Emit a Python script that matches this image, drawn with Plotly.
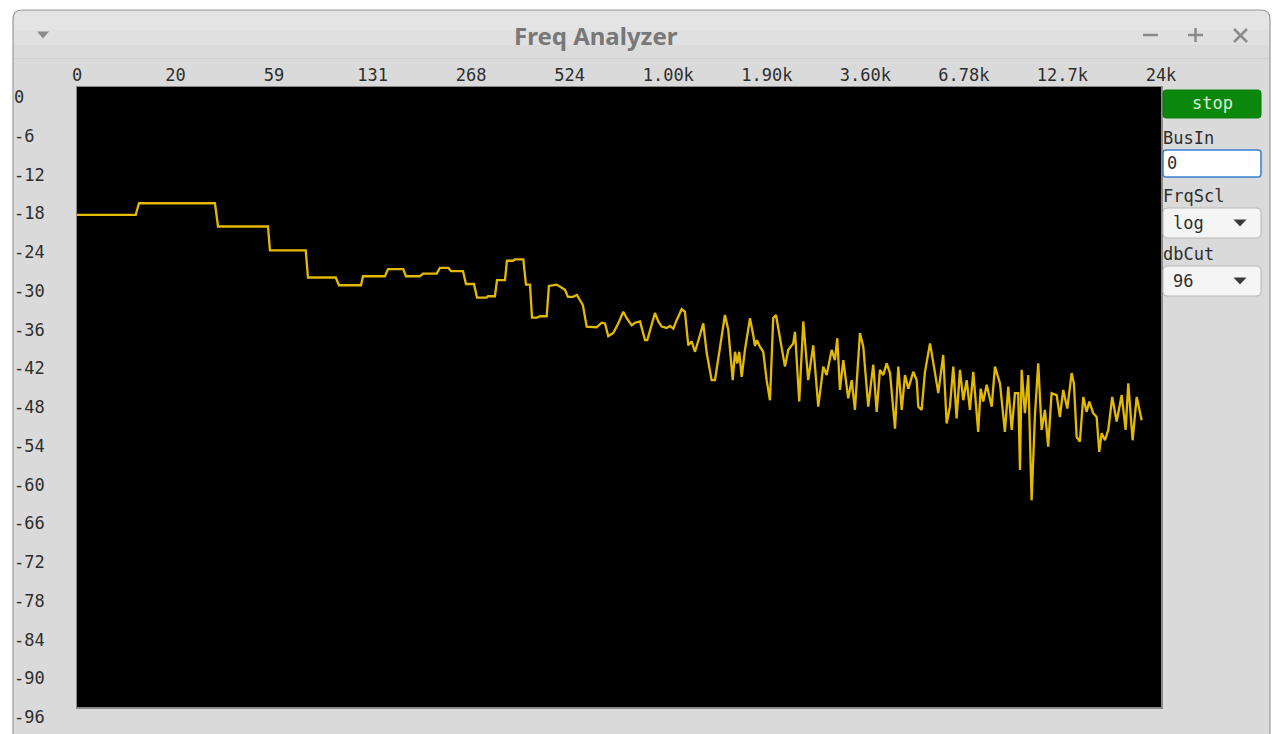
import plotly.graph_objects as go

# Spectrum trace: position along the log-frequency axis (100 units per labelled step) and level in dB
pos = [
    0.0, 59.6, 62.9, 140.0, 143.1, 193.8, 195.8, 232.1, 234.4, 262.5,
    265.9, 288.2, 290.2, 312.5, 315.6, 331.1, 333.8, 348.0, 351.1, 365.0,
    368.3, 376.8, 379.5, 391.7, 394.7, 402.8, 405.9, 415.7, 417.0, 424.1,
    426.2, 434.3, 436.3, 442.4, 444.4, 452.9, 455.6, 459.7, 461.7, 466.8,
    469.8, 476.6, 478.9, 486.8, 491.1, 495.2, 498.2, 503.3, 507.3, 510.4,
    513.4, 517.2, 527.3, 532.4, 535.8, 539.1, 544.2, 549.3, 554.3, 557.8,
    562.9, 566.2, 571.3, 576.4, 578.7, 586.5, 589.9, 593.3, 598.4, 601.7,
    605.1, 608.5, 613.6, 616.9, 620.3, 623.7, 627.1, 632.2, 635.5, 639.0,
    644.0, 647.4, 652.5, 657.5, 660.9, 665.4, 667.7, 670.0, 672.0, 674.5,
    677.8, 682.9, 686.2, 688.0, 690.0, 693.0, 696.4, 699.8, 703.2, 706.5,
    709.3, 713.3, 718.4, 721.8, 726.8, 728.6, 732.9, 737.0, 742.0, 747.1,
    752.2, 757.3, 760.7, 765.8, 769.1, 771.5, 774.2, 777.6, 782.6, 786.1,
    789.4, 794.5, 797.9, 802.9, 808.0, 811.5, 814.8, 818.2, 821.6, 825.0,
    830.1, 833.4, 836.9, 840.2, 843.6, 848.6, 852.1, 853.7, 857.1, 860.5,
    865.6, 869.6, 874.0, 879.0, 882.5, 885.8, 889.2, 892.6, 896.0, 899.3,
    902.8, 906.1, 909.5, 914.5, 917.0, 919.6, 923.1, 928.2, 931.5, 936.6,
    941.6, 945.0, 948.5, 951.8, 955.1, 956.9, 958.6, 961.9, 965.3, 968.7,
    972.1, 975.4, 978.9, 982.2, 985.5, 989.0, 994.1, 997.4, 1000.8, 1004.9,
    1009.3, 1011.6, 1014.4, 1017.7, 1021.1, 1024.5, 1027.2, 1031.2, 1034.7, 1037.3,
    1039.8, 1043.1, 1046.5, 1050.5, 1055.0, 1060.1, 1064.1, 1066.8, 1071.2, 1075.3,
    1080.4,
]
level_db = [
    -19.8, -19.8, -18.0, -18.0, -21.6, -21.6, -25.3, -25.3, -29.5, -29.5,
    -30.7, -30.7, -29.3, -29.3, -28.2, -28.2, -29.3, -29.3, -28.9, -28.9,
    -28.0, -28.0, -28.5, -28.5, -30.5, -30.5, -32.6, -32.6, -32.4, -32.4,
    -29.9, -29.9, -26.9, -26.9, -26.7, -26.7, -30.6, -30.6, -35.7, -35.7,
    -35.5, -35.5, -30.8, -30.6, -31.0, -31.4, -32.5, -32.5, -32.2, -33.0,
    -33.8, -37.1, -37.2, -36.5, -36.6, -38.6, -38.1, -36.6, -34.8, -35.8,
    -36.9, -36.5, -36.3, -39.2, -39.2, -35.0, -36.3, -37.1, -37.3, -37.0,
    -37.4, -36.1, -34.4, -34.8, -40.0, -39.4, -41.0, -38.4, -36.6, -41.2,
    -45.4, -45.4, -40.2, -35.3, -37.6, -45.4, -41.0, -42.8, -41.0, -44.9,
    -40.7, -35.8, -38.4, -40.1, -39.2, -40.2, -41.0, -45.4, -48.5, -35.8,
    -35.3, -38.7, -43.3, -40.7, -39.7, -37.9, -48.7, -36.3, -45.4, -40.0,
    -49.5, -43.3, -44.6, -40.7, -42.3, -38.9, -46.9, -42.3, -48.2, -45.4,
    -50.0, -38.1, -40.2, -49.5, -43.0, -50.3, -43.8, -44.6, -42.8, -44.3,
    -52.9, -43.3, -50.0, -44.6, -46.7, -44.1, -45.4, -49.5, -50.0, -44.1,
    -39.7, -43.3, -47.4, -41.5, -52.1, -49.5, -43.3, -51.3, -43.8, -48.5,
    -45.4, -50.0, -44.1, -53.4, -46.7, -48.7, -46.1, -49.5, -43.3, -45.9,
    -53.4, -46.4, -53.1, -47.4, -47.4, -59.3, -43.8, -50.5, -44.6, -64.0,
    -50.8, -42.8, -53.1, -50.0, -55.7, -47.4, -47.7, -51.1, -46.9, -49.8,
    -44.3, -45.9, -54.2, -54.9, -48.0, -50.3, -48.7, -50.5, -51.1, -56.5,
    -53.6, -54.7, -53.1, -48.0, -51.8, -47.7, -53.1, -45.9, -54.7, -48.0,
    -51.6,
]
assert len(pos) == len(level_db)

# Axis labelling
freq_tick_pos = [0, 100, 200, 300, 400, 500, 600, 700, 800, 900, 1000, 1100]
freq_tick_text = ["0", "20", "59", "131", "268", "524", "1.00k", "1.90k",
                  "3.60k", "6.78k", "12.7k", "24k"]
db_ticks = [0, -6, -12, -18, -24, -30, -36, -42, -48, -54, -60, -66, -72,
            -78, -84, -90, -96]

# Page geometry (pixels) of the plotting area
W, H = 1276, 734
PL, PT, PR, PB = 77, 87, 1161, 707


def fx(x):
    return (x - PL) / (PR - PL)


def fy(y):
    return (PB - y) / (PB - PT)


def rect(x0, y0, x1, y1, fill, line=None, lw=1, layer="below"):
    return dict(type="rect", xref="paper", yref="paper",
                x0=fx(x0), x1=fx(x1), y0=fy(y1), y1=fy(y0),
                fillcolor=fill, line=dict(color=line or fill, width=lw if line else 0),
                layer=layer)


def rounded(x0, y0, x1, y1, r, fill, line, lw=1, layer="below"):
    p = (f"M {fx(x0)},{fy(y1)} L {fx(x0)},{fy(y0 + r)} "
         f"Q {fx(x0)},{fy(y0)} {fx(x0 + r)},{fy(y0)} "
         f"L {fx(x1 - r)},{fy(y0)} Q {fx(x1)},{fy(y0)} {fx(x1)},{fy(y0 + r)} "
         f"L {fx(x1)},{fy(y1)} Z")
    return dict(type="path", xref="paper", yref="paper", path=p,
                fillcolor=fill, line=dict(color=line, width=lw), layer=layer)


def box(x0, y0, x1, y1, r, fill, line, lw=1, layer="above"):
    p = (f"M {fx(x0 + r)},{fy(y0)} L {fx(x1 - r)},{fy(y0)} "
         f"Q {fx(x1)},{fy(y0)} {fx(x1)},{fy(y0 + r)} "
         f"L {fx(x1)},{fy(y1 - r)} Q {fx(x1)},{fy(y1)} {fx(x1 - r)},{fy(y1)} "
         f"L {fx(x0 + r)},{fy(y1)} Q {fx(x0)},{fy(y1)} {fx(x0)},{fy(y1 - r)} "
         f"L {fx(x0)},{fy(y0 + r)} Q {fx(x0)},{fy(y0)} {fx(x0 + r)},{fy(y0)} Z")
    return dict(type="path", xref="paper", yref="paper", path=p,
                fillcolor=fill, line=dict(color=line, width=lw), layer=layer)


def seg(x0, y0, x1, y1, color, width):
    return dict(type="line", xref="paper", yref="paper",
                x0=fx(x0), y0=fy(y0), x1=fx(x1), y1=fy(y1),
                line=dict(color=color, width=width), layer="above")


def tri(cx, cy, w, h, color):
    p = (f"M {fx(cx - w / 2)},{fy(cy - h / 2)} L {fx(cx + w / 2)},{fy(cy - h / 2)} "
         f"L {fx(cx)},{fy(cy + h / 2)} Z")
    return dict(type="path", xref="paper", yref="paper", path=p,
                fillcolor=color, line=dict(color=color, width=0), layer="above")


MONO = "DejaVu Sans Mono"
TXT = "#2e2e2e"

shapes = [
    # window body and title bar
    rounded(13, 10, 1270, 760, 9, "#dadada", "#9c9c9c", 1.2),
    rounded(14, 11, 1269, 58, 8, "#e4e4e4", "#e4e4e4", 0),
    rect(14, 30, 1269, 45, "#e0e0e0"),
    rect(14, 45, 1269, 58, "#dbdbdb"),
    rect(14, 58, 1269, 59, "#d0d0d0"),
    # plotting surface
    rect(PL - 1, PT - 1, PR + 2, PB + 2, "#8a8a8a"),
    rect(PL, PT, PR, PB, "#000000"),
    # title bar controls
    tri(43, 35, 12, 7, "#8a8a8a"),
    seg(1143, 35, 1158, 35, "#8a8a8a", 2.5),
    seg(1188, 35, 1203, 35, "#8a8a8a", 2.5),
    seg(1195.5, 28, 1195.5, 42, "#8a8a8a", 2.5),
    seg(1234, 29, 1247, 42, "#8a8a8a", 2.5),
    seg(1234, 42, 1247, 29, "#8a8a8a", 2.5),
    # side panel widgets
    box(1163, 90, 1261, 118, 3, "#0b870b", "#0a7a0a"),
    box(1163, 150, 1261, 177, 3, "#ffffff", "#3c7fd0", 1.5),
    box(1163, 208, 1261, 238, 4, "#f5f5f5", "#b8b8b8"),
    tri(1240, 223, 13, 7, "#3a3a3a"),
    box(1163, 266, 1261, 296, 4, "#f5f5f5", "#b8b8b8"),
    tri(1240, 281, 13, 7, "#3a3a3a"),
]

annotations = [
    dict(text="<b>Freq Analyzer</b>", x=fx(596), y=fy(36), xref="paper", yref="paper",
         showarrow=False, xanchor="center", yanchor="middle",
         font=dict(family="Noto Sans", size=24, color="#787878")),
    dict(text="stop", x=fx(1212), y=fy(103), xref="paper", yref="paper",
         showarrow=False, xanchor="center", yanchor="middle",
         font=dict(family=MONO, size=17, color="#d8f0d8")),
    dict(text="BusIn", x=fx(1161), y=fy(138), xref="paper", yref="paper",
         showarrow=False, xanchor="left", yanchor="middle",
         font=dict(family=MONO, size=17, color=TXT)),
    dict(text="0", x=fx(1165), y=fy(163), xref="paper", yref="paper",
         showarrow=False, xanchor="left", yanchor="middle",
         font=dict(family=MONO, size=17, color=TXT)),
    dict(text="FrqScl", x=fx(1161), y=fy(196), xref="paper", yref="paper",
         showarrow=False, xanchor="left", yanchor="middle",
         font=dict(family=MONO, size=17, color=TXT)),
    dict(text="log", x=fx(1171), y=fy(223), xref="paper", yref="paper",
         showarrow=False, xanchor="left", yanchor="middle",
         font=dict(family=MONO, size=17, color=TXT)),
    dict(text="dbCut", x=fx(1161), y=fy(254), xref="paper", yref="paper",
         showarrow=False, xanchor="left", yanchor="middle",
         font=dict(family=MONO, size=17, color=TXT)),
    dict(text="96", x=fx(1171), y=fy(281), xref="paper", yref="paper",
         showarrow=False, xanchor="left", yanchor="middle",
         font=dict(family=MONO, size=17, color=TXT)),
]

# dB scale labels sit just below their level, left-aligned at the window edge
for v in db_ticks:
    annotations.append(dict(
        text=str(v), x=fx(12), y=v, xref="paper", yref="y", yshift=-10,
        showarrow=False, xanchor="left", yanchor="middle",
        font=dict(family=MONO, size=17, color=TXT)))

fig = go.Figure(go.Scatter(
    x=pos, y=level_db, mode="lines",
    line=dict(color="#e3ba00", width=2.3),
    hoverinfo="skip", showlegend=False))

fig.update_layout(
    width=W, height=H, autosize=False,
    margin=dict(l=PL, r=W - PR, t=PT, b=H - PB, pad=0),
    paper_bgcolor="#ffffff", plot_bgcolor="#000000",
    shapes=shapes, annotations=annotations,
    xaxis=dict(range=[0, 1100], side="top", tickmode="array",
               tickvals=freq_tick_pos, ticktext=freq_tick_text,
               showgrid=False, zeroline=False, showline=False, ticks="",
               ticklabelstandoff=2,
               tickfont=dict(family=MONO, size=17, color=TXT),
               fixedrange=True),
    yaxis=dict(range=[-96, 0], showticklabels=False, showgrid=False,
               zeroline=False, showline=False, ticks="", fixedrange=True),
)

fig.write_html("out.html", config={"displayModeBar": False})
